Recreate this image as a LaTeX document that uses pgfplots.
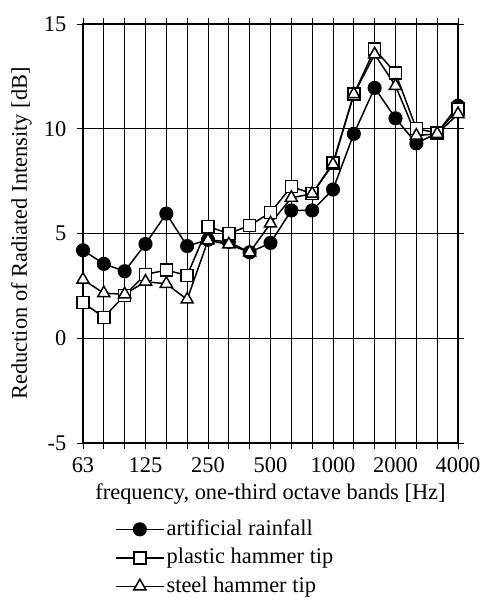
\documentclass[border=0pt]{standalone}
\usepackage{fontspec}
\setmainfont{Liberation Serif}
\usepackage{pgfplots}
\pgfplotsset{compat=1.18}
\begin{document}
\fontsize{22.5}{26}\selectfont
\begin{tikzpicture}
\useasboundingbox (-83bp,-158bp) rectangle (397bp,443bp);
\begin{axis}[
  at={(0,0)}, anchor=south west,
  scale only axis, width=375bp, height=419bp,
  xmin=0, xmax=18, ymin=-5, ymax=15,
  xtick={0,...,18},
  xticklabels={63,,,125,,,250,,,500,,,1000,,,2000,,,4000},
  ytick={-5,0,5,10,15},
  /pgf/number format/assume math mode=true,
  tick align=outside,
  major tick length=6bp,
  tick style={black, line width=0.8pt},
  grid=major,
  grid style={black, line width=0.7pt},
  axis line style={line width=1.5pt},
  every tick label/.append style={font=\fontsize{22.5}{26}\selectfont},
  xticklabel style={yshift=-1bp},
  yticklabel style={xshift=-3bp},
  xlabel={frequency, one-third octave bands [Hz]},
  ylabel={Reduction of Radiated Intensity [dB]},
  label style={font=\fontsize{22.5}{26}\selectfont},
  xlabel style={yshift=4bp},
  ylabel style={yshift=-3bp},
  legend style={at={(0.085,-0.178)}, anchor=north west, draw=none, fill=none,
    font=\fontsize{22.5}{26}\selectfont, row sep=5.5bp, inner sep=0pt},
  legend cell align=left,
  legend image code/.code={
    \draw[mark repeat=2, mark phase=2] plot coordinates {(0bp,0bp) (24bp,0bp) (48bp,0bp)};
  },
  every axis plot/.append style={black, line width=1.5pt},
]
\addplot[mark=*, mark size=6.3bp, mark options={fill=black}] coordinates {
(0,4.2) (1,3.55) (2,3.2) (3,4.5) (4,5.95) (5,4.4) (6,4.7) (7,4.6) (8,4.1) (9,4.55)
(10,6.1) (11,6.1) (12,7.1) (13,9.76) (14,11.95) (15,10.5) (16,9.3) (17,9.8) (18,11.1)};
\addlegendentry{artificial rainfall}
\addplot[mark=square*, mark size=6bp, mark options={fill=white, line width=1.5pt}] coordinates {
(0,1.7) (1,1.0) (2,2.05) (3,3.05) (4,3.25) (5,3.0) (6,5.33) (7,5.0) (8,5.38) (9,6.0)
(10,7.24) (11,6.9) (12,8.37) (13,11.65) (14,13.8) (15,12.66) (16,10.0) (17,9.8) (18,10.95)};
\addlegendentry{plastic hammer tip}
\addplot[mark=triangle*, mark size=7bp, mark options={fill=white, line width=1.5pt}] coordinates {
(0,2.8) (1,2.15) (2,2.1) (3,2.7) (4,2.6) (5,1.85) (6,4.67) (7,4.48) (8,4.1) (9,5.48)
(10,6.7) (11,6.9) (12,8.3) (13,11.65) (14,13.55) (15,12.05) (16,9.67) (17,9.76) (18,10.7)};
\addlegendentry{steel hammer tip}
\end{axis}
\end{tikzpicture}
\end{document}
